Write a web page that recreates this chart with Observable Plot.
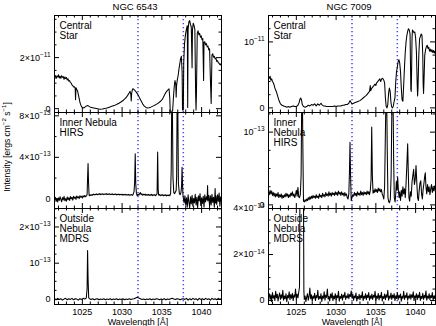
<!DOCTYPE html>
<html><head><meta charset="utf-8">
<script src="https://cdn.jsdelivr.net/npm/d3@7"></script>
<script src="https://cdn.jsdelivr.net/npm/@observablehq/plot@0.6"></script>
<style>
body{margin:0;background:#fff;}
#fig{position:relative;width:436px;height:326px;overflow:hidden;font-family:"Liberation Sans",Arial,Helvetica,sans-serif;}
#fig svg{position:absolute;}
</style></head><body><div id="fig"></div>
<script>
// ---------------- DATA ----------------
const objects = ["NGC 6543", "NGC 7009"];
const xTickValues = [1025, 1030, 1035, 1040];
const xMinorValues = [1022,1023,1024,1026,1027,1028,1029,1031,1032,1033,1034,1036,1037,1038,1039,1041,1042];
const oviLines = [1032.0, 1037.7];
const xLabel = "Wavelength [Å]";
const yLabel = "Intensity [ergs cm^-2 s^-1]";

// NGC 6543 central star (units 1e-11)
const spec6543Star = [[1021.5,1.22],[1021.6,1.30],[1021.7,1.18],[1021.8,1.28],[1021.9,1.24],[1022.0,1.33],[1022.1,1.20],[1022.2,1.27],[1022.3,1.19],[1022.4,1.29],[1022.5,1.23],[1022.6,1.26],[1022.7,1.15],[1022.8,1.24],[1022.9,1.18],[1023.0,1.22],[1023.1,1.12],[1023.2,1.17],[1023.3,1.08],[1023.4,1.10],[1023.5,1.02],[1023.6,1.00],[1023.7,0.93],[1023.8,0.90],[1023.9,0.85],[1024.0,0.86],[1024.1,0.80],[1024.15,0.35],[1024.2,0.82],[1024.3,0.75],[1024.4,0.70],[1024.5,0.55],[1024.6,0.40],[1024.7,0.25],[1024.8,0.15],[1024.9,0.08],[1025.0,0.05],[1025.2,0.03],[1025.4,0.08],[1025.6,0.12],[1025.8,0.10],[1026.0,0.06],[1026.3,0.04],[1026.6,0.02],[1026.9,0.00],[1027.2,-0.02],[1027.5,-0.01],[1027.8,0.01],[1028.1,0.03],[1028.4,0.06],[1028.7,0.09],[1029.0,0.12],[1029.3,0.16],[1029.6,0.21],[1029.9,0.27],[1030.2,0.34],[1030.5,0.43],[1030.7,0.52],[1030.9,0.62],[1031.0,0.68],[1031.1,0.55],[1031.15,0.30],[1031.2,0.60],[1031.3,0.76],[1031.4,0.78],[1031.5,0.75],[1031.6,0.72],[1031.8,0.64],[1032.0,0.55],[1032.2,0.42],[1032.4,0.30],[1032.6,0.18],[1032.8,0.10],[1033.0,0.05],[1033.2,0.03],[1033.4,0.04],[1033.6,0.06],[1033.8,0.09],[1034.0,0.12],[1034.2,0.15],[1034.4,0.19],[1034.6,0.23],[1034.8,0.28],[1035.0,0.34],[1035.2,0.45],[1035.4,0.58],[1035.6,0.68],[1035.8,0.75],[1035.9,0.78],[1036.0,0.40],[1036.05,-0.10],[1036.35,-0.10],[1036.45,0.40],[1036.55,0.85],[1036.65,1.10],[1036.75,0.95],[1036.8,0.45],[1036.85,0.90],[1036.95,1.15],[1037.05,1.30],[1037.15,1.55],[1037.25,1.75],[1037.35,1.95],[1037.45,2.05],[1037.55,1.40],[1037.6,-0.05],[1037.7,-0.05],[1037.75,1.80],[1037.85,2.55],[1037.95,2.85],[1038.05,3.05],[1038.15,3.20],[1038.2,3.25],[1038.25,0.05],[1038.3,3.10],[1038.4,3.40],[1038.5,3.45],[1038.6,3.30],[1038.7,3.20],[1038.8,1.60],[1038.85,3.10],[1038.95,3.35],[1039.05,3.25],[1039.15,3.10],[1039.25,0.50],[1039.3,-0.05],[1039.35,0.60],[1039.45,2.95],[1039.55,3.05],[1039.65,2.90],[1039.75,2.95],[1039.85,2.80],[1039.95,2.85],[1040.05,2.70],[1040.15,2.75],[1040.25,1.10],[1040.3,2.60],[1040.4,2.62],[1040.5,2.50],[1040.6,2.55],[1040.7,2.42],[1040.8,2.45],[1040.9,2.30],[1041.0,2.35],[1041.1,1.20],[1041.2,0.20],[1041.3,2.10],[1041.4,2.15],[1041.5,2.02],[1041.6,2.05],[1041.7,1.95],[1041.8,1.98],[1041.9,1.85],[1042.0,1.88],[1042.1,1.80],[1042.2,1.78],[1042.3,1.72],[1042.4,1.75],[1042.5,1.68]];

// NGC 7009 central star (units 1e-11)
const spec7009Star = [[1021.5,0.47],[1021.6,0.45],[1021.7,0.48],[1021.8,0.42],[1021.9,0.44],[1022.0,0.40],[1022.1,0.38],[1022.2,0.35],[1022.3,0.30],[1022.4,0.27],[1022.5,0.24],[1022.6,0.20],[1022.7,0.16],[1022.8,0.12],[1022.9,0.09],[1023.0,0.06],[1023.2,0.04],[1023.4,0.03],[1023.6,0.02],[1023.8,0.01],[1024.0,0.02],[1024.2,0.01],[1024.4,0.02],[1024.6,0.03],[1024.8,0.02],[1025.0,0.02],[1025.2,0.04],[1025.35,0.08],[1025.45,0.13],[1025.55,0.15],[1025.65,0.12],[1025.75,0.05],[1025.9,0.02],[1026.1,0.01],[1026.3,0.02],[1026.5,0.04],[1026.7,0.03],[1026.9,0.05],[1027.1,0.04],[1027.3,0.06],[1027.5,0.03],[1027.7,0.06],[1027.9,0.04],[1028.1,0.07],[1028.2,0.05],[1028.4,0.03],[1028.6,0.03],[1028.8,0.02],[1029.0,0.02],[1029.2,0.02],[1029.4,0.02],[1029.6,0.02],[1029.8,0.03],[1030.0,0.02],[1030.2,0.03],[1030.4,0.03],[1030.6,0.03],[1030.8,0.04],[1031.0,0.04],[1031.2,0.05],[1031.4,0.05],[1031.6,0.07],[1031.75,0.11],[1031.85,0.09],[1032.0,0.06],[1032.2,0.07],[1032.4,0.08],[1032.6,0.09],[1032.8,0.10],[1033.0,0.11],[1033.2,0.13],[1033.4,0.15],[1033.6,0.17],[1033.8,0.19],[1034.0,0.22],[1034.2,0.25],[1034.3,0.34],[1034.35,0.26],[1034.5,0.30],[1034.7,0.33],[1034.9,0.36],[1035.0,0.34],[1035.1,0.38],[1035.3,0.41],[1035.5,0.44],[1035.6,0.40],[1035.7,0.43],[1035.8,0.45],[1035.9,0.44],[1036.0,0.42],[1036.1,0.38],[1036.2,0.15],[1036.3,0.02],[1036.4,0.00],[1036.5,0.05],[1036.6,0.22],[1036.7,0.30],[1036.8,0.25],[1036.9,0.08],[1037.0,0.01],[1037.1,0.00],[1037.2,0.03],[1037.3,0.10],[1037.4,0.15],[1037.5,0.40],[1037.6,0.55],[1037.7,0.62],[1037.8,0.70],[1037.9,0.73],[1038.0,0.68],[1038.1,0.55],[1038.2,0.30],[1038.3,0.12],[1038.4,0.10],[1038.5,0.35],[1038.6,0.62],[1038.7,0.85],[1038.8,1.00],[1038.9,1.10],[1039.0,1.16],[1039.1,1.20],[1039.2,1.18],[1039.3,1.12],[1039.35,0.70],[1039.4,0.28],[1039.45,0.25],[1039.5,0.60],[1039.55,1.05],[1039.6,1.18],[1039.7,1.16],[1039.8,1.14],[1039.9,1.15],[1040.0,1.06],[1040.1,0.85],[1040.2,0.35],[1040.25,0.18],[1040.3,0.30],[1040.4,0.80],[1040.5,1.05],[1040.6,1.08],[1040.7,1.12],[1040.8,1.10],[1040.9,0.80],[1040.95,0.35],[1041.0,0.22],[1041.05,0.40],[1041.15,0.80],[1041.25,0.88],[1041.35,0.93],[1041.45,0.95],[1041.55,0.90],[1041.65,0.92],[1041.75,0.86],[1041.85,0.89],[1041.95,0.85],[1042.05,0.88],[1042.15,0.84],[1042.25,0.87],[1042.35,0.83],[1042.45,0.86]];

// NGC 6543 inner nebula, HIRS (units 1e-13)
const spec6543Inner = [[1021.5,-0.10],[1021.6,0.15],[1021.7,-0.25],[1021.8,0.05],[1021.9,-0.30],[1022.0,0.10],[1022.1,-0.15],[1022.2,0.20],[1022.3,-0.05],[1022.4,-0.28],[1022.5,0.12],[1022.6,-0.10],[1022.7,0.25],[1022.8,-0.18],[1022.9,0.02],[1023.0,-0.22],[1023.1,0.18],[1023.2,-0.08],[1023.3,0.10],[1023.4,-0.15],[1023.5,0.22],[1023.6,0.00],[1023.7,0.15],[1023.8,-0.12],[1023.9,0.25],[1024.0,0.05],[1024.1,0.18],[1024.2,-0.05],[1024.3,0.28],[1024.4,0.10],[1024.5,0.20],[1024.6,0.02],[1024.7,0.30],[1024.8,0.15],[1024.9,0.25],[1025.0,0.08],[1025.1,0.30],[1025.2,0.18],[1025.3,0.32],[1025.4,0.20],[1025.5,0.28],[1025.6,0.40],[1025.65,1.8],[1025.72,3.40],[1025.78,1.6],[1025.85,0.35],[1025.9,0.30],[1026.0,0.38],[1026.1,0.32],[1026.2,0.42],[1026.3,0.36],[1026.4,0.45],[1026.5,0.38],[1026.6,0.44],[1026.7,0.40],[1026.8,0.48],[1026.9,0.39],[1027.0,0.46],[1027.1,0.42],[1027.2,0.50],[1027.3,0.41],[1027.4,0.47],[1027.5,0.43],[1027.6,0.49],[1027.7,0.40],[1027.8,0.46],[1027.9,0.44],[1028.0,0.50],[1028.1,0.41],[1028.2,0.47],[1028.3,0.43],[1028.4,0.49],[1028.5,0.40],[1028.6,0.46],[1028.7,0.42],[1028.8,0.48],[1028.9,0.39],[1029.0,0.45],[1029.1,0.42],[1029.2,0.47],[1029.3,0.38],[1029.4,0.44],[1029.5,0.40],[1029.6,0.46],[1029.7,0.37],[1029.8,0.43],[1029.9,0.40],[1030.0,0.45],[1030.1,0.36],[1030.2,0.42],[1030.3,0.38],[1030.4,0.44],[1030.5,0.35],[1030.6,0.41],[1030.7,0.37],[1030.8,0.43],[1030.9,0.34],[1031.0,0.40],[1031.1,0.36],[1031.2,0.42],[1031.3,0.33],[1031.4,0.45],[1031.5,0.70],[1031.58,1.60],[1031.65,4.35],[1031.72,1.40],[1031.8,0.55],[1031.9,0.30],[1032.0,0.45],[1032.1,0.35],[1032.2,0.50],[1032.3,0.60],[1032.4,0.40],[1032.5,0.48],[1032.6,0.35],[1032.7,0.44],[1032.8,0.38],[1032.9,0.46],[1033.0,0.33],[1033.1,0.42],[1033.2,0.36],[1033.3,0.44],[1033.4,0.32],[1033.5,0.40],[1033.6,0.35],[1033.7,0.43],[1033.8,0.31],[1033.9,0.40],[1034.0,0.34],[1034.1,0.42],[1034.2,0.30],[1034.3,0.38],[1034.4,0.50],[1034.47,4.50],[1034.54,0.90],[1034.6,0.35],[1034.7,0.42],[1034.8,0.30],[1034.9,0.38],[1035.0,0.33],[1035.1,0.41],[1035.2,0.29],[1035.3,0.37],[1035.4,0.32],[1035.5,0.40],[1035.6,0.28],[1035.7,0.36],[1035.8,0.31],[1035.9,0.39],[1036.0,0.30],[1036.1,0.50],[1036.18,3.00],[1036.24,9.50],[1036.32,9.50],[1036.4,2.00],[1036.5,0.60],[1036.6,0.50],[1036.7,0.65],[1036.8,0.80],[1036.86,2.20],[1036.92,9.50],[1037.0,9.50],[1037.08,1.50],[1037.2,0.50],[1037.3,0.40],[1037.4,0.60],[1037.48,1.20],[1037.54,3.05],[1037.6,1.50],[1037.65,0.40],[1037.7,0.10],[1037.8,-0.40],[1037.9,0.30],[1038.0,-0.60],[1038.1,0.10],[1038.2,-0.80],[1038.3,0.40],[1038.4,-0.30],[1038.5,-0.85],[1038.6,0.20],[1038.7,-0.50],[1038.8,0.35],[1038.9,-0.70],[1039.0,0.05],[1039.1,-0.40],[1039.2,0.45],[1039.3,-0.60],[1039.4,0.15],[1039.5,-0.85],[1039.6,0.30],[1039.7,-0.20],[1039.8,0.50],[1039.9,-0.65],[1040.0,0.10],[1040.1,-0.45],[1040.2,0.25],[1040.3,-0.80],[1040.4,0.40],[1040.5,-0.30],[1040.6,0.20],[1040.7,-0.10],[1040.75,1.28],[1040.8,-0.20],[1040.9,0.35],[1041.0,-0.70],[1041.1,0.30],[1041.2,-0.60],[1041.3,0.45],[1041.4,-0.35],[1041.5,0.15],[1041.6,-0.80],[1041.7,1.00],[1041.75,-0.40],[1041.8,0.30],[1041.9,-0.55],[1042.0,0.40],[1042.1,-0.25],[1042.2,0.55],[1042.3,-0.70],[1042.4,0.20],[1042.5,-0.30]];

// NGC 7009 inner nebula, HIRS (units 1e-13)
const spec7009Inner = [[1021.5,0.18],[1021.6,0.14],[1021.7,0.20],[1021.8,0.15],[1021.9,0.19],[1022.0,0.13],[1022.1,0.17],[1022.2,0.12],[1022.3,0.16],[1022.4,0.11],[1022.5,0.15],[1022.6,0.12],[1022.7,0.17],[1022.8,0.10],[1022.9,0.14],[1023.0,0.11],[1023.1,0.15],[1023.2,0.09],[1023.3,0.13],[1023.4,0.10],[1023.5,0.14],[1023.6,0.11],[1023.7,0.16],[1023.8,0.12],[1023.9,0.15],[1024.0,0.10],[1024.1,0.14],[1024.2,0.11],[1024.3,0.16],[1024.4,0.13],[1024.5,0.18],[1024.6,0.12],[1024.7,0.15],[1024.8,0.10],[1024.9,0.14],[1025.0,0.20],[1025.1,0.12],[1025.2,0.24],[1025.3,0.11],[1025.4,0.10],[1025.5,0.14],[1025.6,0.40],[1025.68,1.50],[1025.76,1.50],[1025.84,0.60],[1025.9,0.05],[1026.0,0.04],[1026.1,0.07],[1026.2,0.05],[1026.3,0.08],[1026.4,0.06],[1026.5,0.10],[1026.6,0.07],[1026.7,0.11],[1026.8,0.08],[1026.9,0.12],[1027.0,0.09],[1027.1,0.13],[1027.2,0.10],[1027.3,0.12],[1027.4,0.09],[1027.5,0.14],[1027.6,0.10],[1027.7,0.12],[1027.8,0.09],[1027.9,0.15],[1028.0,0.11],[1028.1,0.13],[1028.2,0.10],[1028.3,0.16],[1028.4,0.12],[1028.5,0.14],[1028.6,0.11],[1028.7,0.17],[1028.8,0.13],[1028.9,0.15],[1029.0,0.12],[1029.1,0.18],[1029.2,0.13],[1029.3,0.16],[1029.4,0.12],[1029.5,0.17],[1029.6,0.14],[1029.7,0.16],[1029.8,0.13],[1029.9,0.18],[1030.0,0.14],[1030.1,0.17],[1030.2,0.13],[1030.3,0.19],[1030.4,0.15],[1030.5,0.17],[1030.6,0.13],[1030.7,0.18],[1030.8,0.14],[1030.9,0.16],[1031.0,0.12],[1031.1,0.17],[1031.2,0.13],[1031.3,0.15],[1031.4,0.10],[1031.5,0.08],[1031.6,0.15],[1031.68,0.45],[1031.75,0.86],[1031.82,0.40],[1031.9,0.06],[1032.0,0.10],[1032.1,0.14],[1032.2,0.12],[1032.3,0.17],[1032.4,0.13],[1032.5,0.16],[1032.6,0.12],[1032.7,0.18],[1032.8,0.14],[1032.9,0.16],[1033.0,0.13],[1033.1,0.19],[1033.2,0.14],[1033.3,0.17],[1033.4,0.13],[1033.5,0.18],[1033.6,0.15],[1033.7,0.17],[1033.8,0.14],[1033.9,0.19],[1034.0,0.15],[1034.1,0.18],[1034.2,0.14],[1034.3,0.20],[1034.4,0.35],[1034.48,1.07],[1034.56,0.40],[1034.65,0.16],[1034.7,0.20],[1034.8,0.17],[1034.9,0.22],[1035.0,0.18],[1035.1,0.21],[1035.2,0.17],[1035.3,0.23],[1035.4,0.19],[1035.5,0.22],[1035.6,0.18],[1035.7,0.21],[1035.8,0.15],[1035.9,0.12],[1036.0,0.08],[1036.1,0.25],[1036.2,1.00],[1036.28,1.50],[1036.36,1.50],[1036.44,0.70],[1036.52,0.10],[1036.62,0.04],[1036.72,0.03],[1036.82,0.08],[1036.92,0.40],[1037.0,1.20],[1037.08,1.50],[1037.16,1.50],[1037.24,0.60],[1037.32,0.10],[1037.42,0.04],[1037.5,0.15],[1037.58,0.32],[1037.66,0.20],[1037.74,0.38],[1037.82,0.22],[1037.92,0.10],[1038.0,0.18],[1038.1,0.06],[1038.2,0.20],[1038.3,0.12],[1038.4,0.25],[1038.5,0.15],[1038.6,0.22],[1038.7,0.10],[1038.8,0.30],[1038.9,0.55],[1039.0,0.84],[1039.08,0.45],[1039.16,0.10],[1039.25,0.05],[1039.35,0.18],[1039.45,0.12],[1039.55,0.32],[1039.65,0.40],[1039.75,0.49],[1039.85,0.28],[1039.95,0.35],[1040.05,0.54],[1040.15,0.30],[1040.25,0.10],[1040.35,0.06],[1040.45,0.20],[1040.55,0.30],[1040.65,0.33],[1040.75,0.15],[1040.85,0.08],[1040.95,0.22],[1041.05,0.30],[1041.15,0.40],[1041.22,0.44],[1041.3,0.25],[1041.4,0.15],[1041.5,0.28],[1041.6,0.18],[1041.7,0.25],[1041.8,0.14],[1041.9,0.22],[1042.0,0.28],[1042.1,0.17],[1042.2,0.24],[1042.3,0.19],[1042.4,0.26],[1042.5,0.20]];

// NGC 6543 outside nebula, MDRS (units 1e-13)
const spec6543Outside = [[1021.5,0.02],[1021.7,-0.01],[1021.9,0.03],[1022.1,0.00],[1022.3,0.02],[1022.5,-0.02],[1022.7,0.01],[1022.9,0.03],[1023.1,-0.01],[1023.3,0.02],[1023.5,0.00],[1023.7,0.03],[1023.9,-0.01],[1024.1,0.02],[1024.3,0.01],[1024.5,-0.02],[1024.7,0.02],[1024.9,0.00],[1025.1,0.03],[1025.3,0.01],[1025.5,0.04],[1025.6,0.30],[1025.66,1.35],[1025.72,0.60],[1025.8,0.05],[1025.9,0.02],[1026.1,0.00],[1026.3,0.02],[1026.5,-0.01],[1026.7,0.01],[1026.9,0.02],[1027.1,-0.01],[1027.3,0.01],[1027.5,0.00],[1027.7,0.02],[1027.9,-0.01],[1028.1,0.01],[1028.3,0.00],[1028.5,0.02],[1028.7,-0.01],[1028.9,0.01],[1029.1,0.00],[1029.3,0.02],[1029.5,-0.01],[1029.7,0.01],[1029.9,0.00],[1030.1,0.02],[1030.3,-0.01],[1030.5,0.01],[1030.7,0.00],[1030.9,0.02],[1031.1,0.00],[1031.3,0.01],[1031.5,0.02],[1031.7,0.04],[1031.9,0.06],[1032.1,0.04],[1032.3,0.02],[1032.5,0.00],[1032.7,0.01],[1032.9,-0.01],[1033.1,0.01],[1033.3,0.00],[1033.5,0.02],[1033.7,-0.01],[1033.9,0.01],[1034.1,0.00],[1034.3,0.02],[1034.5,0.01],[1034.7,-0.01],[1034.9,0.01],[1035.1,0.00],[1035.3,0.02],[1035.5,-0.01],[1035.7,0.01],[1035.9,0.00],[1036.1,0.02],[1036.3,0.03],[1036.5,0.01],[1036.7,0.00],[1036.9,0.02],[1037.1,0.01],[1037.3,-0.01],[1037.5,0.01],[1037.7,0.02],[1037.9,0.00],[1038.1,0.03],[1038.3,-0.02],[1038.5,0.02],[1038.7,-0.01],[1038.9,0.03],[1039.1,0.00],[1039.3,0.02],[1039.5,-0.02],[1039.7,0.03],[1039.9,0.00],[1040.1,0.02],[1040.3,-0.01],[1040.5,0.03],[1040.7,0.00],[1040.9,0.02],[1041.1,-0.02],[1041.3,0.03],[1041.5,0.00],[1041.7,0.02],[1041.9,-0.01],[1042.1,0.03],[1042.3,0.00],[1042.5,0.02]];

// NGC 7009 outside nebula, MDRS (units 1e-14)
const spec7009Outside = [[1021.5,0.15],[1021.6,0.30],[1021.7,0.05],[1021.8,0.25],[1021.9,-0.05],[1022.0,0.35],[1022.1,0.10],[1022.2,0.22],[1022.3,0.00],[1022.4,0.40],[1022.5,0.12],[1022.6,0.28],[1022.7,-0.02],[1022.8,0.18],[1022.9,0.33],[1023.0,0.05],[1023.1,0.25],[1023.2,0.10],[1023.3,0.45],[1023.4,0.02],[1023.5,0.20],[1023.6,0.08],[1023.7,0.30],[1023.8,-0.05],[1023.9,0.22],[1024.0,0.12],[1024.1,0.38],[1024.2,0.04],[1024.3,0.26],[1024.4,0.10],[1024.5,0.32],[1024.6,0.00],[1024.7,0.24],[1024.8,0.15],[1024.9,0.50],[1025.0,0.06],[1025.1,0.28],[1025.2,0.12],[1025.3,0.35],[1025.4,0.60],[1025.45,4.5],[1025.9,4.5],[1025.95,0.40],[1026.0,0.05],[1026.1,0.20],[1026.2,-0.05],[1026.3,0.15],[1026.4,0.30],[1026.5,0.02],[1026.6,0.18],[1026.7,0.55],[1026.8,0.08],[1026.9,0.25],[1027.0,-0.03],[1027.1,0.20],[1027.2,0.10],[1027.3,0.32],[1027.4,0.00],[1027.5,0.22],[1027.6,0.12],[1027.7,0.45],[1027.8,0.05],[1027.9,0.18],[1028.0,0.08],[1028.1,0.30],[1028.2,-0.04],[1028.3,0.20],[1028.4,0.10],[1028.5,0.38],[1028.6,0.02],[1028.7,0.24],[1028.8,0.14],[1028.9,0.50],[1029.0,0.06],[1029.1,0.18],[1029.2,-0.02],[1029.3,0.28],[1029.4,0.12],[1029.5,0.34],[1029.6,0.00],[1029.7,0.20],[1029.8,0.08],[1029.9,0.30],[1030.0,0.04],[1030.1,0.22],[1030.2,0.12],[1030.3,0.40],[1030.4,-0.03],[1030.5,0.18],[1030.6,0.10],[1030.7,0.28],[1030.8,0.02],[1030.9,0.24],[1031.0,0.14],[1031.1,0.36],[1031.2,0.05],[1031.3,0.20],[1031.4,0.12],[1031.5,0.30],[1031.6,0.08],[1031.7,0.26],[1031.8,0.18],[1031.9,0.42],[1032.0,0.10],[1032.1,0.28],[1032.2,0.02],[1032.3,0.20],[1032.4,0.12],[1032.5,0.33],[1032.6,-0.02],[1032.7,0.18],[1032.8,0.08],[1032.9,0.27],[1033.0,0.04],[1033.1,0.22],[1033.2,0.12],[1033.3,0.38],[1033.4,0.00],[1033.5,0.19],[1033.6,0.10],[1033.7,0.30],[1033.8,0.04],[1033.9,0.24],[1034.0,0.13],[1034.1,0.35],[1034.2,0.02],[1034.3,0.21],[1034.4,0.09],[1034.5,0.28],[1034.6,0.05],[1034.7,0.23],[1034.8,0.14],[1034.9,0.40],[1035.0,0.01],[1035.1,0.20],[1035.2,0.10],[1035.3,0.31],[1035.4,0.03],[1035.5,0.22],[1035.6,0.12],[1035.7,0.36],[1035.8,-0.02],[1035.9,0.18],[1036.0,0.09],[1036.1,0.29],[1036.2,0.04],[1036.3,0.25],[1036.4,0.14],[1036.5,0.45],[1036.6,0.02],[1036.7,0.20],[1036.8,0.10],[1036.9,0.33],[1037.0,0.05],[1037.1,0.24],[1037.2,0.12],[1037.3,0.30],[1037.4,0.00],[1037.5,0.21],[1037.6,0.09],[1037.7,0.35],[1037.8,0.04],[1037.9,0.23],[1038.0,0.12],[1038.1,0.29],[1038.2,-0.03],[1038.3,0.19],[1038.4,0.10],[1038.5,0.40],[1038.6,0.05],[1038.7,0.22],[1038.8,0.13],[1038.9,0.34],[1039.0,0.02],[1039.1,0.20],[1039.2,0.11],[1039.3,0.28],[1039.4,0.06],[1039.5,0.25],[1039.6,0.14],[1039.7,0.38],[1039.8,0.00],[1039.9,0.21],[1040.0,0.10],[1040.1,0.30],[1040.2,0.04],[1040.3,0.24],[1040.4,0.12],[1040.5,0.36],[1040.6,0.01],[1040.7,0.19],[1040.8,0.09],[1040.9,0.32],[1041.0,0.05],[1041.1,0.23],[1041.2,0.12],[1041.3,0.42],[1041.4,0.02],[1041.5,0.20],[1041.6,0.10],[1041.7,0.30],[1041.8,0.04],[1041.9,0.22],[1042.0,0.13],[1042.1,0.35],[1042.2,0.00],[1042.3,0.21],[1042.4,0.09],[1042.5,0.28]];

// Tick values & labels per panel
const yTicks6543Star = [0, 2], yLabels6543Star = ["0", "2×10^-11"], yMinor6543Star = [0.5, 1, 1.5, 2.5, 3, 3.5];
const yTicks7009Star = [0, 1], yLabels7009Star = ["0", "10^-11"], yMinor7009Star = [0.2, 0.4, 0.6, 0.8, 1.2];
const yTicks6543Inner = [0, 4, 8], yLabels6543Inner = ["0", "4×10^-13", "8×10^-13"], yMinor6543Inner = [2, 6];
const yTicks7009Inner = [0, 1], yLabels7009Inner = ["0", "10^-13"], yMinor7009Inner = [0.25, 0.5, 0.75, 1.25];
const yTicks6543Outside = [0, 1, 2], yLabels6543Outside = ["0", "10^-13", "2×10^-13"], yMinor6543Outside = [0.25, 0.5, 0.75, 1.25, 1.5, 1.75, 2.25, 2.5];
const yTicks7009Outside = [0, 2, 4], yLabels7009Outside = ["0", "2×10^-14", "4×10^-14"], yMinor7009Outside = [0.5, 1, 1.5, 2.5, 3, 3.5];

const panelText6543 = ["Central\nStar", "Inner Nebula\nHIRS", "Outside\nNebula\nMDRS"];
const panelText7009 = ["Central\nStar", "Inner\nNebula\nHIRS", "Outside\nNebula\nMDRS"];

// ---------------- LAYOUT ----------------
const xDomain = [1021.5, 1042.5];
const cols = [{left: 54, w: 167}, {left: 268, w: 167}];
const rows = [{top: 15, h: 97}, {top: 112, h: 96}, {top: 208, h: 96}];
const panels = [
  {c:0, r:0, data:spec6543Star, yDomain:[-0.15, 3.65], ticks:yTicks6543Star, labels:yLabels6543Star, minor:yMinor6543Star, text:panelText6543[0]},
  {c:0, r:1, data:spec6543Inner, yDomain:[-0.93, 8.32], ticks:yTicks6543Inner, labels:yLabels6543Inner, minor:yMinor6543Inner, text:panelText6543[1]},
  {c:0, r:2, data:spec6543Outside, yDomain:[-0.14, 2.51], ticks:yTicks6543Outside, labels:yLabels6543Outside, minor:yMinor6543Outside, text:panelText6543[2]},
  {c:1, r:0, data:spec7009Star, yDomain:[-0.07, 1.40], ticks:yTicks7009Star, labels:yLabels7009Star, minor:yMinor7009Star, text:panelText7009[0]},
  {c:1, r:1, data:spec7009Inner, yDomain:[-0.05, 1.27], ticks:yTicks7009Inner, labels:yLabels7009Inner, minor:yMinor7009Inner, text:panelText7009[1]},
  {c:1, r:2, data:spec7009Outside, yDomain:[-0.17, 4.0], ticks:yTicks7009Outside, labels:yLabels7009Outside, minor:yMinor7009Outside, text:panelText7009[2]}
];

const fig = document.getElementById("fig");
const ML = 54, MR = 2, MT = 2;
const FONT = '"Liberation Sans", Arial, Helvetica, sans-serif';

for (const p of panels) {
  const col = cols[p.c], row = rows[p.r];
  const bottom = p.r === 2;
  const MB = bottom ? 24 : 2;
  const W = col.w, H = row.h;
  const lab = new Map(p.ticks.map((t, i) => [t, p.labels[i]]));
  const marks = [
    Plot.ruleX(oviLines, {x: d => d, stroke: "#4646ff", strokeWidth: 1.5, strokeDasharray: "1.2,2.8", strokeLinecap: "butt"}),
    Plot.line(p.data, {x: d => d[0], y: d => d[1], stroke: "black", strokeWidth: 1.05, clip: true}),
    Plot.frame({stroke: "black", strokeWidth: 1}),
    // inward x ticks, bottom and top
    Plot.tickX(xTickValues, {x: d => d, insetTop: H - 5, stroke: "black"}),
    Plot.tickX(xMinorValues, {x: d => d, insetTop: H - 2.5, stroke: "black"}),
    Plot.tickX(xTickValues, {x: d => d, insetBottom: H - 5, stroke: "black"}),
    Plot.tickX(xMinorValues, {x: d => d, insetBottom: H - 2.5, stroke: "black"}),
    // inward y ticks, left and right
    Plot.tickY(p.ticks, {y: d => d, insetRight: W - 5, stroke: "black"}),
    Plot.tickY(p.minor, {y: d => d, insetRight: W - 2.5, stroke: "black"}),
    Plot.tickY(p.ticks, {y: d => d, insetLeft: W - 5, stroke: "black"}),
    Plot.tickY(p.minor, {y: d => d, insetLeft: W - 2.5, stroke: "black"}),
    Plot.axisY({ticks: p.ticks, tickFormat: d => lab.get(d), tickSize: 0, tickPadding: 4, fontSize: 9, label: null}),
    Plot.text([p.text], {frameAnchor: "top-left", dx: 5, dy: 6.5, lineAnchor: "top", textAnchor: "start", fontSize: 10, lineHeight: 1.0})
  ];
  if (p.r === 0) {
    marks.push(Plot.text([objects[p.c]], {frameAnchor: "top", dx: -3, dy: -6, lineAnchor: "bottom", fontSize: 9.5}));
  }
  if (bottom) {
    marks.push(Plot.axisX({ticks: xTickValues, tickFormat: d => String(d), tickSize: 0, tickPadding: 4, fontSize: 9, label: null}));
    marks.push(Plot.text([xLabel], {frameAnchor: "bottom", dy: 20, lineAnchor: "bottom", fontSize: 9}));
  }
  const svg = Plot.plot({
    width: W + ML + MR, height: H + MT + MB,
    marginLeft: ML, marginRight: MR, marginTop: MT, marginBottom: MB,
    x: {domain: xDomain, ...(bottom ? {} : {axis: null})},
    y: {domain: p.yDomain},
    style: {overflow: "visible", fontFamily: FONT, background: "transparent", color: "black"},
    marks
  });
  svg.style.left = (col.left - ML) + "px";
  svg.style.top = (row.top - MT) + "px";
  fig.appendChild(svg);
}

// y-axis title overlay
const ov = d3.select(fig).append("svg").attr("width", 436).attr("height", 326)
  .style("left", "0px").style("top", "0px").style("overflow", "visible");
ov.append("text").attr("transform", "translate(10,147) rotate(-90)")
  .attr("text-anchor", "middle").attr("font-size", 8.5).attr("font-family", FONT).text(yLabel);

// superscript post-processing (a^b)
const NS = "http://www.w3.org/2000/svg";
fig.querySelectorAll("text").forEach(el => {
  if (el.children.length) return;
  const s = el.textContent;
  if (!s.includes("^")) return;
  const fs = parseFloat(getComputedStyle(el).fontSize) || 9;
  const parts = s.split(/\^(-?\d+)/);
  el.textContent = "";
  let raised = false;
  parts.forEach((part, i) => {
    if (part === "") return;
    const t = document.createElementNS(NS, "tspan");
    if (i % 2 === 1) {
      t.setAttribute("dy", (-0.42 * fs).toFixed(2));
      t.setAttribute("font-size", (0.72 * fs).toFixed(2));
      t.textContent = part.replace("-", "\u2212");
      raised = true;
    } else {
      if (raised) { t.setAttribute("dy", (0.42 * fs).toFixed(2)); raised = false; }
      t.textContent = part;
    }
    el.appendChild(t);
  });
});
</script></body></html>
